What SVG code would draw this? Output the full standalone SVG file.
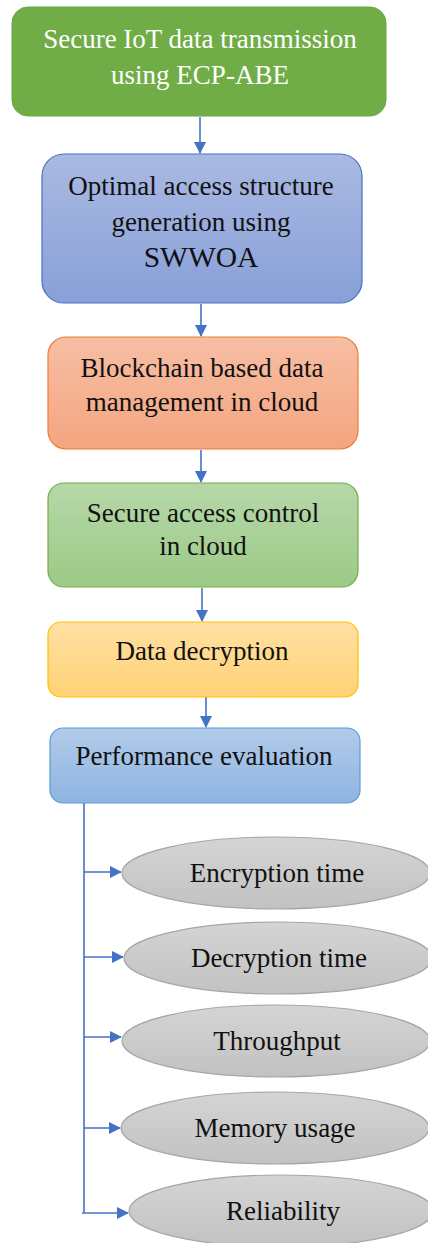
<svg xmlns="http://www.w3.org/2000/svg" width="428" height="1243" viewBox="0 0 428 1243">
<style>
.t{font-family:"Liberation Serif","Times New Roman",serif;font-size:27px;fill:#111;text-anchor:middle}
.w{fill:#fff}
.c{stroke:#4472C4;stroke-width:1.6;fill:none}
.el{fill:url(#gGray);stroke:#A6A6A6;stroke-width:1.2}
</style>
<defs>
<linearGradient id="gBlue" x1="0" y1="0" x2="0" y2="1"><stop offset="0" stop-color="#AAB9E2"/><stop offset="1" stop-color="#88A0D8"/></linearGradient>
<linearGradient id="gOrange" x1="0" y1="0" x2="0" y2="1"><stop offset="0" stop-color="#F7BEA4"/><stop offset="1" stop-color="#F4A580"/></linearGradient>
<linearGradient id="gGreen" x1="0" y1="0" x2="0" y2="1"><stop offset="0" stop-color="#B6D8A9"/><stop offset="1" stop-color="#9CCA86"/></linearGradient>
<linearGradient id="gYellow" x1="0" y1="0" x2="0" y2="1"><stop offset="0" stop-color="#FFE0A3"/><stop offset="1" stop-color="#FFD274"/></linearGradient>
<linearGradient id="gSky" x1="0" y1="0" x2="0" y2="1"><stop offset="0" stop-color="#B1CBE9"/><stop offset="1" stop-color="#8FB4E1"/></linearGradient>
<linearGradient id="gGray" x1="0" y1="0" x2="0" y2="1"><stop offset="0" stop-color="#D4D4D4"/><stop offset="1" stop-color="#C2C2C2"/></linearGradient>
<marker id="ah" markerWidth="12" markerHeight="12" refX="11" refY="6" orient="auto" markerUnits="userSpaceOnUse"><path d="M0,0 L12,6 L0,12 Z" fill="#4472C4"/></marker>
</defs>

<g id="connectors">
<line class="c" x1="200" y1="117" x2="200" y2="153" marker-end="url(#ah)"/>
<line class="c" x1="201" y1="304" x2="201" y2="336" marker-end="url(#ah)"/>
<line class="c" x1="201" y1="450" x2="201" y2="482" marker-end="url(#ah)"/>
<line class="c" x1="202" y1="588" x2="202" y2="621" marker-end="url(#ah)"/>
<line class="c" x1="206" y1="693" x2="206" y2="727" marker-end="url(#ah)"/>
<line class="c" x1="84" y1="803" x2="84" y2="1213"/>
<line class="c" x1="84" y1="872" x2="121" y2="872" marker-end="url(#ah)"/>
<line class="c" x1="84" y1="957" x2="123" y2="957" marker-end="url(#ah)"/>
<line class="c" x1="84" y1="1037" x2="121" y2="1037" marker-end="url(#ah)"/>
<line class="c" x1="84" y1="1128" x2="120" y2="1128" marker-end="url(#ah)"/>
<line class="c" x1="82" y1="1213" x2="128" y2="1213" marker-end="url(#ah)"/>
</g>

<g id="n1">
<rect x="12" y="7" width="374" height="109" rx="16" fill="#70AD47" stroke="#6AA843" stroke-width="1"/>
<text class="t w" x="200" y="48">Secure IoT data transmission</text>
<text class="t w" x="200" y="84">using ECP-ABE</text>
</g>

<g id="n2">
<rect x="42" y="154" width="320" height="149" rx="22" fill="url(#gBlue)" stroke="#4472C4" stroke-width="1.2"/>
<text class="t" x="201" y="195">Optimal access structure</text>
<text class="t" x="201" y="231">generation using</text>
<text class="t" x="201" y="267" style="font-size:29.5px">SWWOA</text>
</g>

<g id="n3">
<rect x="48" y="337" width="310" height="112" rx="18" fill="url(#gOrange)" stroke="#ED7D31" stroke-width="1.2"/>
<text class="t" x="202" y="377">Blockchain based data</text>
<text class="t" x="202" y="411">management in cloud</text>
</g>

<g id="n4">
<rect x="48" y="483" width="310" height="104" rx="16" fill="url(#gGreen)" stroke="#70AD47" stroke-width="1.2"/>
<text class="t" x="203" y="522">Secure access control</text>
<text class="t" x="203" y="555">in cloud</text>
</g>

<g id="n5">
<rect x="48" y="622" width="310" height="75" rx="13" fill="url(#gYellow)" stroke="#FFC000" stroke-width="1.2"/>
<text class="t" x="202" y="660">Data decryption</text>
</g>

<g id="n6">
<rect x="50" y="728" width="310" height="75" rx="13" fill="url(#gSky)" stroke="#5B9BD5" stroke-width="1.2"/>
<text class="t" x="204" y="765">Performance evaluation</text>
</g>

<g id="e1">
<ellipse class="el" cx="276" cy="873" rx="154" ry="36"/>
<text class="t" x="277" y="882">Encryption time</text>
</g>
<g id="e2">
<ellipse class="el" cx="278" cy="958" rx="154" ry="36"/>
<text class="t" x="279" y="967">Decryption time</text>
</g>
<g id="e3">
<ellipse class="el" cx="276" cy="1041" rx="154" ry="36"/>
<text class="t" x="277" y="1050">Throughput</text>
</g>
<g id="e4">
<ellipse class="el" cx="275" cy="1128" rx="154" ry="36"/>
<text class="t" x="275" y="1137">Memory usage</text>
</g>
<g id="e5">
<ellipse class="el" cx="281" cy="1211" rx="152" ry="36"/>
<text class="t" x="283" y="1220">Reliability</text>
</g>
</svg>
